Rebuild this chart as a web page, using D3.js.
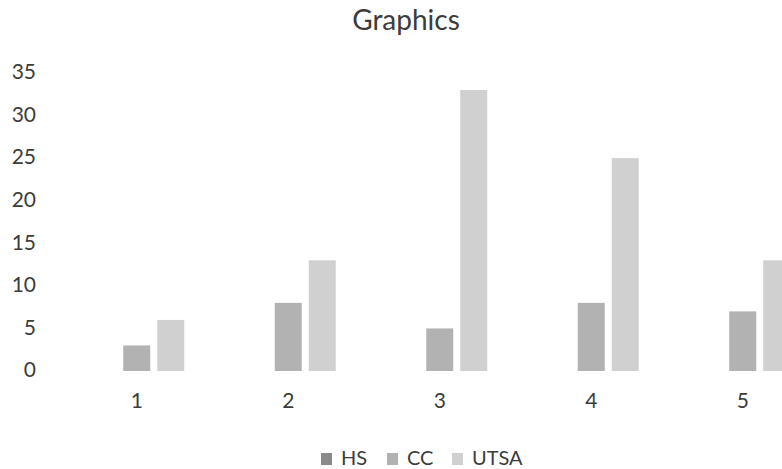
<!DOCTYPE html>
<html><head><meta charset="utf-8">
<script src="https://cdn.jsdelivr.net/npm/d3@7"></script>
<style>html,body{margin:0;padding:0;overflow:hidden;background:#fff}</style>
</head><body>
<svg id="c" width="782" height="469"></svg>
<script>
const categories = ["1","2","3","4","5"];
const seriesNames = ["HS","CC","UTSA"];
const hsValues = [0,0,0,0,0];
const ccValues = [3,8,5,8,7];
const utsaValues = [6,13,33,25,13];
const yTicks = [0,5,10,15,20,25,30,35];
const title = "Graphics";

const colors = {HS:"#8a8a8a", CC:"#b2b2b2", UTSA:"#d0d0d0"};
const seriesValues = {HS:hsValues, CC:ccValues, UTSA:utsaValues};
const font = "Lato, 'Open Sans', sans-serif";
const textColor = "#3c3c3c";

const svg = d3.select("#c");
svg.append("rect").attr("width",782).attr("height",469).attr("fill","#fff");

const x0 = d3.scaleBand().domain(categories).range([61, 818.5]).paddingInner(0.373).paddingOuter(0.1865);
const x1 = d3.scaleBand().domain(seriesNames).range([0, x0.bandwidth()]).paddingInner(0.206).paddingOuter(0);
const y = d3.scaleLinear().domain([0,35]).range([371, 73]);

svg.append("text").attr("x",406).attr("y",30).attr("text-anchor","middle")
  .attr("font-family",font).attr("font-size",28).attr("fill",textColor).text(title);

// y axis labels
const yAxis = d3.axisLeft(y).tickValues(yTicks).tickSize(0).tickPadding(0);
const yg = svg.append("g").attr("transform","translate(36,-1)").call(yAxis);
yg.select(".domain").remove();
yg.selectAll("text").attr("font-family",font).attr("font-size",21).attr("fill",textColor);

// x axis labels
const xAxis = d3.axisBottom(x0).tickSize(0).tickPadding(0);
const xg = svg.append("g").attr("transform","translate(0,393)").call(xAxis);
xg.select(".domain").remove();
xg.selectAll("text").attr("font-family",font).attr("font-size",21).attr("fill",textColor);

// bars
const groups = svg.append("g").selectAll("g").data(categories).join("g")
  .attr("transform", d => `translate(${x0(d)},0)`);
groups.selectAll("rect").data((d,i) => seriesNames.map(s => ({s, v: seriesValues[s][i]})))
  .join("rect")
  .attr("x", d => x1(d.s)).attr("width", x1.bandwidth())
  .attr("y", d => y(d.v)).attr("height", d => y(0) - y(d.v))
  .attr("fill", d => colors[d.s]);

// legend
const legendItems = [{s:"HS", x:321},{s:"CC", x:387},{s:"UTSA", x:452}];
const lg = svg.append("g");
legendItems.forEach(it => {
  lg.append("rect").attr("x", it.x).attr("y", 453).attr("width", 11).attr("height", 12).attr("fill", colors[it.s]);
  lg.append("text").attr("x", it.x + 20).attr("y", 465).attr("font-family",font).attr("font-size",20)
    .attr("fill",textColor).text(it.s);
});
</script>
</body></html>
